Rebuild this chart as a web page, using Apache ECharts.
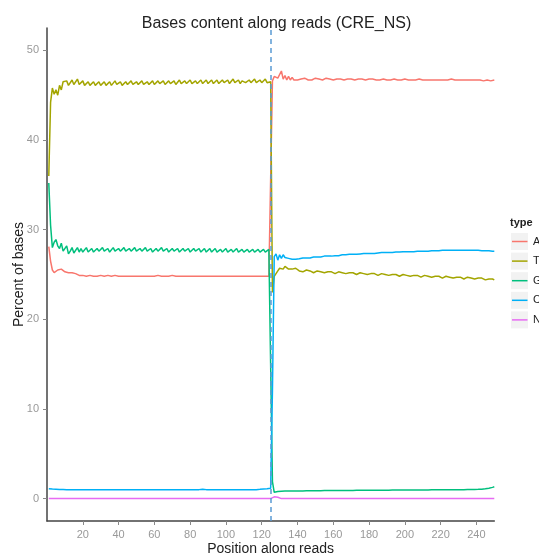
<!DOCTYPE html>
<html><head><meta charset="utf-8">
<script src="https://cdn.jsdelivr.net/npm/echarts@6/dist/echarts.min.js"></script>
<style>html,body{margin:0;padding:0;background:#fff}#c{width:539px;height:553px}</style>
</head><body><div id="c"></div>
<script>
const baseTypes = ['A', 'T', 'G', 'C', 'N'];
const typeColors = ['#F8766D', '#A3A500', '#00BF7D', '#00B0F6', '#E76BF3'];
const xTicks = [20, 40, 60, 80, 100, 120, 140, 160, 180, 200, 220, 240];
const yTicks = [0, 10, 20, 30, 40, 50];
const splitPosition = 125;

// A, positions 1-125 and 126-250
const aFirst = [28.1,26.5,25.5,25.2,25.3,25.5,25.6,25.6,25.4,25.3,
25.3,25.2,25.2,25.2,25.1,25.1,25.0,24.9,24.9,24.9,
24.9,24.8,24.8,24.9,24.9,24.8,24.8,24.8,24.9,24.9,
24.8,24.8,24.8,24.9,24.8,24.8,24.8,24.9,24.8,24.8,
24.8,24.8,24.9,24.8,24.8,24.8,24.8,24.8,24.9,24.8,
24.8,24.8,24.8,24.8,24.9,24.8,24.8,24.8,24.8,24.8,
24.8,24.9,24.8,24.8,24.8,24.8,24.8,24.8,24.8,24.9,
24.8,24.8,24.8,24.8,24.8,24.8,24.8,24.8,24.8,24.8,
24.8,24.8,24.8,24.8,24.8,24.8,24.9,24.8,24.8,24.8,
24.8,24.8,24.8,24.8,24.8,24.8,24.8,24.8,24.8,24.8,
24.8,24.8,24.8,24.8,24.8,24.8,24.8,24.8,24.8,24.8,
24.8,24.8,24.8,24.8,24.8,24.8,24.8,24.8,24.8,24.8,
24.8,24.8,24.8,24.8,24.8];
const aSecond = [46.6,47.1,47.3,46.9,47.1,47.7,46.8,47.2,46.7,47.1,
46.7,47.0,46.7,46.9,46.7,46.9,46.8,46.7,46.9,46.8,
46.7,46.9,46.7,46.8,46.9,46.7,46.8,46.9,46.7,46.8,
46.9,46.7,46.8,46.8,46.7,46.9,46.8,46.7,46.8,46.8,
46.7,46.8,46.8,46.7,46.8,46.8,46.7,46.8,46.8,46.7,
46.8,46.8,46.7,46.8,46.8,46.7,46.8,46.8,46.7,46.8,
46.7,46.7,46.8,46.7,46.7,46.8,46.7,46.7,46.8,46.7,
46.7,46.8,46.7,46.7,46.8,46.7,46.7,46.8,46.7,46.7,
46.7,46.7,46.8,46.7,46.7,46.7,46.7,46.8,46.7,46.7,
46.7,46.7,46.7,46.8,46.7,46.7,46.7,46.7,46.7,46.7,
46.8,46.7,46.7,46.7,46.7,46.7,46.7,46.7,46.7,46.7,
46.7,46.7,46.7,46.7,46.7,46.7,46.7,46.7,46.6,46.7,
46.7,46.7,46.6,46.7,46.7];

// T
const tFirst = [36.0,44.2,45.8,45.1,45.6,45.0,46.1,45.6,46.5,
46.4,46.6,46.1, 46.3,46.7,46.2, 46.4,46.8,46.2, 46.3,46.6,46.1, 46.2,46.5,46.1, 46.3,46.5,46.1, 46.2,46.5,46.1, 46.3,46.5,46.1, 46.2,46.5,46.1, 46.3,46.6,46.2,
46.3,46.5,46.1, 46.3,46.5,46.2, 46.3,46.6,46.2, 46.3,46.5,46.2, 46.4,46.6,46.2, 46.3,46.5,46.2, 46.4,46.6,46.2, 46.3,46.6,46.3, 46.4,46.6,46.2, 46.4,46.6,46.3,
46.4,46.6,46.2, 46.4,46.7,46.3, 46.4,46.6,46.3, 46.5,46.7,46.3, 46.4,46.6,46.3, 46.5,46.7,46.3, 46.4,46.7,46.3, 46.5,46.7,46.3, 46.5,46.7,46.3, 46.4,46.7,46.4,
46.5,46.7,46.3, 46.5,46.8,46.4, 46.5,46.7,46.3, 46.6,46.8,46.4, 46.5,46.7,46.4, 46.6,46.8,46.4, 46.5,46.7,46.4, 46.6,46.8,46.4,
46.6,46.5];
const tSecond = [23.0,24.8,24.9,25.4,25.7,25.9,25.6,25.9,25.8,25.6,25.8,25.6,25.5,25.7,25.5,25.4,
25.5,25.3,25.4, 25.5,25.3,25.4, 25.4,25.2,25.4, 25.4,25.2,25.3, 25.4,25.2,25.3, 25.3,25.1,25.3, 25.3,25.1,25.2, 25.3,25.1,25.2, 25.3,25.1,25.2, 25.2,25.0,25.2, 25.2,25.0,25.1, 25.2,25.0,25.1,
25.2,25.0,25.1, 25.1,24.9,25.1, 25.1,24.9,25.0, 25.1,24.9,25.0, 25.1,24.9,25.0, 25.0,24.8,25.0, 25.0,24.8,24.9, 25.0,24.8,24.9, 25.0,24.8,24.9, 24.9,24.7,24.9, 24.9,24.7,24.8, 24.9,24.7,24.8,
24.9,24.7,24.8, 24.8,24.6,24.8, 24.8,24.6,24.7, 24.8,24.6,24.7, 24.7,24.6,24.7, 24.7,24.5,24.7, 24.7,24.5,24.6, 24.7,24.5,24.6, 24.6,24.5,24.6, 24.6,24.4,24.6, 24.6,24.4,24.5, 24.5,24.4,24.5,
24.4];

// G
const gFirst = [35.2,30.5,28.0,28.6,28.9,28.2,27.9,28.5,27.6,27.8,28.2,27.3,27.6,28.0,27.4,27.6,28.0,27.5,
27.9,27.5,27.7, 28.0,27.5,27.7, 27.9,27.5,27.7, 27.9,27.6,27.7, 28.0,27.6,27.7, 27.9,27.5,27.7, 28.0,27.6,27.8, 27.9,27.6,27.7, 28.0,27.6,27.7, 27.9,27.6,27.8,
28.0,27.6,27.7, 27.9,27.6,27.7, 28.0,27.6,27.7, 27.9,27.5,27.7, 27.9,27.6,27.7, 28.0,27.6,27.7, 27.9,27.5,27.7, 27.9,27.6,27.7, 27.9,27.5,27.7, 27.9,27.6,27.7,
27.9,27.5,27.7, 27.9,27.6,27.7, 27.9,27.5,27.7, 27.9,27.5,27.6, 27.9,27.5,27.7, 27.9,27.5,27.6, 27.8,27.5,27.7, 27.9,27.5,27.6, 27.8,27.5,27.7, 27.9,27.5,27.6,
27.8,27.5,27.7, 27.8,27.5,27.6, 27.8,27.5,27.7, 27.8,27.5,27.6, 27.8,27.5,27.7,
27.8,27.6];
const gSecond = [1.9,0.7,0.8,0.8,
0.82,0.83,0.83,0.84,0.84,0.84,0.85,0.85,0.85,0.85,
0.86,0.86,0.86,0.86,0.87,0.87,0.87,0.87,0.87,0.88,
0.88,0.88,0.88,0.88,0.89,0.89,0.89,0.89,0.89,0.89,
0.90,0.90,0.90,0.90,0.90,0.90,0.91,0.91,0.91,0.91,
0.91,0.91,0.92,0.92,0.92,0.92,0.92,0.92,0.92,0.93,
0.93,0.93,0.93,0.93,0.93,0.93,0.94,0.94,0.94,0.94,
0.94,0.94,0.94,0.95,0.95,0.95,0.95,0.95,0.95,0.95,
0.96,0.96,0.96,0.96,0.96,0.96,0.96,0.97,0.97,0.97,
0.97,0.97,0.97,0.97,0.98,0.98,0.98,0.98,0.98,0.98,
0.98,0.99,0.99,0.99,0.99,0.99,0.99,0.99,1.00,1.00,
1.00,1.00,1.00,1.00,1.00,1.01,1.01,1.01,1.01,1.02,
1.02,1.03,1.04,1.05,1.07,1.09,1.12,1.16,1.20,1.25,
1.32];

// C
const cFirst = [1.10,1.08,1.06,1.05,1.04,1.03,1.02,1.02,1.01,1.01,
1.00,1.00,1.00,1.00,1.00,1.00,1.00,1.00,1.00,1.00,
1.00,1.00,1.00,1.00,1.00,1.00,1.00,1.00,1.00,1.00,
1.00,1.00,1.00,1.00,1.00,1.00,1.00,1.00,1.00,1.00,
1.00,1.00,1.00,1.00,1.00,1.00,1.00,1.00,1.00,1.00,
1.00,1.00,1.00,1.00,1.00,1.00,1.00,1.00,1.00,1.00,
1.00,1.00,1.00,1.00,1.00,1.00,1.00,1.00,1.00,1.00,
1.00,1.00,1.00,1.00,1.00,1.00,1.00,1.00,1.00,1.00,
1.00,1.00,1.00,1.00,1.00,1.12,1.04,1.00,1.00,1.00,
1.00,1.00,1.00,1.00,1.00,1.00,1.00,1.00,1.00,1.00,
1.00,1.00,1.00,1.00,1.00,1.00,1.00,1.00,1.00,1.00,
1.00,1.00,1.00,1.00,1.00,1.00,1.00,1.02,1.03,1.05,
1.07,1.08,1.10,1.12,1.15];
const cSecond = [12.0,27.0,27.3,26.6,27.2,26.8,27.2,26.9,27.0,26.8,26.9,26.7,26.8,26.7,26.8,
26.75,26.8,26.85,26.8,26.85,26.9,26.85,26.9,26.95,26.9,
26.95,27.0,26.95,27.0,27.05,27.0,27.05,27.1,27.05,27.1,
27.1,27.15,27.1,27.15,27.2,27.15,27.2,27.2,27.25,27.2,
27.25,27.3,27.25,27.3,27.3,27.3,27.35,27.3,27.35,27.35,
27.35,27.4,27.35,27.4,27.4,27.4,27.45,27.4,27.45,27.45,
27.45,27.5,27.45,27.5,27.5,27.5,27.5,27.5,27.55,27.5,
27.55,27.55,27.55,27.6,27.55,27.6,27.6,27.6,27.6,27.6,
27.6,27.65,27.6,27.65,27.65,27.65,27.65,27.7,27.65,27.7,
27.7,27.7,27.7,27.7,27.7,27.7,27.7,27.7,27.7,27.7,
27.7,27.7,27.7,27.7,27.7,27.7,27.7,27.7,27.7,27.7,
27.7,27.7,27.65,27.7,27.65,27.65,27.65,27.65,27.6,27.6];

// N
const nFirst = [0,0,0,0,0,0,0,0,0,0,0,0,0,0,0,0,0,0,0,0,0,0,0,0,0,
0,0,0,0,0,0,0,0,0,0,0,0,0,0,0,0,0,0,0,0,0,0,0,0,0,
0,0,0,0,0,0,0,0,0,0,0,0,0,0,0,0,0,0,0,0,0,0,0,0,0,
0,0,0,0,0,0,0,0,0,0,0,0,0,0,0,0,0,0,0,0,0,0,0,0,0,
0,0,0,0,0,0,0,0,0,0,0,0,0,0,0,0,0,0,0,0,0,0,0,0,0];
const nSecond = [0,0.2,0.3,0.15,0.05,
0,0,0,0,0,0,0,0,0,0,0,0,0,0,0,0,0,0,0,0,
0,0,0,0,0,0,0,0,0,0,0,0,0,0,0,0,0,0,0,0,
0,0,0,0,0,0,0,0,0,0,0,0,0,0,0,0,0,0,0,0,
0,0,0,0,0,0,0,0,0,0,0,0,0,0,0,0,0,0,0,0,
0,0,0,0,0,0,0,0,0,0,0,0,0,0,0,0,0,0,0,0,
0,0,0,0,0,0,0,0,0,0,0,0,0,0,0,0,0,0,0,0];

const seriesValues = [
  aFirst.concat(aSecond),
  tFirst.concat(tSecond),
  gFirst.concat(gSecond),
  cFirst.concat(cSecond),
  nFirst.concat(nSecond)
];

const FONT = '"Liberation Sans", Arial, Helvetica, sans-serif';
const chart = echarts.init(document.getElementById('c'), null, {renderer: 'canvas'});

const series = baseTypes.map((name, k) => ({
  name: name,
  type: 'line',
  symbol: 'none',
  showSymbol: false,
  color: typeColors[k],
  lineStyle: {width: 1.5, color: typeColors[k]},
  data: seriesValues[k].map((v, i) => [i + 1, v]),
  z: 2
}));
series.push({
  name: 'split',
  type: 'line',
  data: [],
  z: 5,
  markLine: {
    silent: true,
    symbol: 'none',
    label: {show: false},
    lineStyle: {color: '#5A9BD4', type: [5, 4], width: 1.5},
    data: [{xAxis: splitPosition}]
  }
});

// legend drawn as key boxes (ggplot style)
const legendTop = 233;
const legendStep = 19.6;
const legendItems = [];
baseTypes.forEach((t, i) => {
  const top = legendTop + i * legendStep;
  const cy = top + 8.5;
  legendItems.push({type: 'rect', shape: {x: 511, y: top, width: 17, height: 17}, style: {fill: '#F2F2F2'}, z: 0, silent: true});
  legendItems.push({type: 'line', shape: {x1: 512, y1: cy, x2: 527.5, y2: cy}, style: {stroke: typeColors[i], lineWidth: 1.5}, z: 1, silent: true});
  legendItems.push({type: 'text', x: 533, y: cy, style: {text: t, font: '11px ' + FONT, fill: '#222', verticalAlign: 'middle', align: 'left'}, z: 1, silent: true});
});

chart.setOption({
  animation: false,
  backgroundColor: '#ffffff',
  title: {
    text: 'Bases content along reads (CRE_NS)',
    left: 271.5,
    textAlign: 'center',
    top: 11,
    textStyle: {fontFamily: FONT, fontSize: 16, fontWeight: 'normal', color: '#222'}
  },
  grid: {left: 47, right: 44.7, top: 28, bottom: 32, containLabel: false, outerBoundsMode: 'none'},
  xAxis: {
    type: 'value',
    min: 0,
    max: 250,
    name: 'Position along reads',
    nameLocation: 'middle',
    nameGap: 21,
    nameMoveOverlap: false,
    nameTextStyle: {fontFamily: FONT, fontSize: 14, color: '#222'},
    axisLine: {show: true, onZero: false, lineStyle: {color: '#444', width: 1.5}},
    axisTick: {show: true, length: 4, lineStyle: {color: '#888'}, customValues: xTicks},
    axisLabel: {color: '#999', fontFamily: FONT, fontSize: 11, margin: 8, customValues: xTicks},
    splitLine: {show: false}
  },
  yAxis: {
    type: 'value',
    min: -2.5,
    max: 52.5,
    name: 'Percent of bases',
    nameLocation: 'middle',
    nameRotate: 90,
    nameGap: 21,
    nameMoveOverlap: false,
    nameTextStyle: {fontFamily: FONT, fontSize: 14, color: '#222'},
    axisLine: {show: true, onZero: false, lineStyle: {color: '#444', width: 1.5}},
    axisTick: {show: true, length: 4, lineStyle: {color: '#888'}, customValues: yTicks},
    axisLabel: {color: '#999', fontFamily: FONT, fontSize: 11, margin: 8, customValues: yTicks},
    splitLine: {show: false}
  },
  graphic: [
    {type: 'text', x: 510, y: 223, style: {text: 'type', font: 'bold 11px ' + FONT, fill: '#222', verticalAlign: 'middle'}, z: 1, silent: true}
  ].concat(legendItems),
  series: series
});
</script>
</body></html>
